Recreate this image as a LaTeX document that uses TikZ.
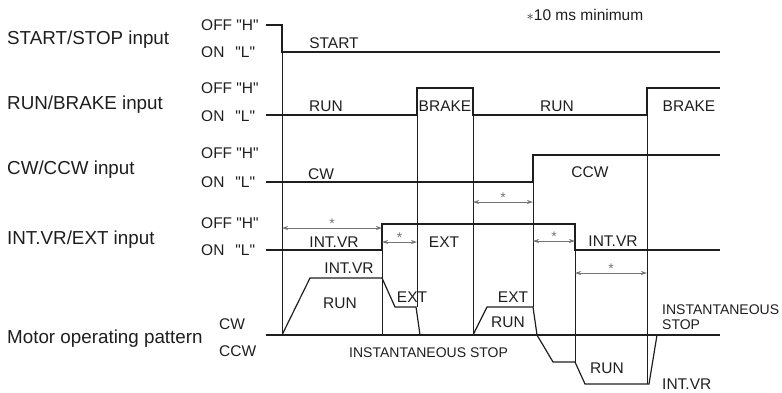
\documentclass[tikz,border=0pt]{standalone}
\usepackage{fontspec}
\setmainfont{Liberation Sans}
\usetikzlibrary{arrows.meta}
\definecolor{ink}{RGB}{30,30,30}
\definecolor{soft}{RGB}{115,115,115}
\newcommand{\offH}{OFF \textquotedbl H\textquotedbl}
\newcommand{\onL}{ON\hspace{11pt}\textquotedbl L\textquotedbl}
\tikzset{
  sig/.style={ink, line width=1.2pt, line join=miter},
  guide/.style={ink, line width=0.9pt},
  dim/.style={{Stealth[length=6pt,width=4pt]}-{Stealth[length=6pt,width=4pt]}, soft, line width=0.8pt},
  side/.style={font=\fontsize{18.8}{20}\selectfont, ink, inner sep=0pt, anchor=base west},
  lvl/.style={font=\fontsize{15.5}{17}\selectfont, ink, inner sep=0pt, anchor=west},
  lbl/.style={font=\fontsize{15.5}{17}\selectfont, ink, inner sep=0pt},
  note/.style={font=\fontsize{14}{15}\selectfont, ink, inner sep=0pt},
  star/.style={font=\fontsize{14}{15}\selectfont, soft, inner sep=0pt, anchor=base},
}

\begin{document}
\begin{tikzpicture}[x=1pt,y=-1pt]
    \useasboundingbox (0,0) rectangle (782,392);
    % --- names of the inputs ---
    \node[side] (nStart) at (7,44)  {START/STOP input};
    \node[side] (nRun)   at (7,109) {RUN/BRAKE input};
    \node[side] (nDir)   at (7,174) {CW/CCW input};
    \node[side] (nSpeed) at (7,244) {INT.VR/EXT input};
    \node[side] (nMotor) at (7,343) {Motor operating pattern};
    \node[lbl] (footnote) at (585,15) {$\ast$10 ms minimum};
    % --- levels ---
    \node[lvl] (hStart) at (201,25)  {\offH};
    \node[lvl] (lStart) at (201,52)  {\onL};
    \node[lvl] (hRun)   at (201,88)  {\offH};
    \node[lvl] (lRun)   at (201,116) {\onL};
    \node[lvl] (hDir)   at (201,153) {\offH};
    \node[lvl] (lDir)   at (201,182) {\onL};
    \node[lvl] (hSpeed) at (201,223) {\offH};
    \node[lvl] (lSpeed) at (201,250) {\onL};
    \node[lbl,anchor=west] (mCw)  at (219,324) {CW};
    \node[lbl,anchor=west] (mCcw) at (219,351) {CCW};
    % --- guide lines ---
    \draw[guide] (282,25) -- (282,335);
    \draw[guide] (382,224) -- (382,335);
    \draw[guide] (417,88) -- (417,307);
    \draw[guide] (473,88) -- (473,335);
    \draw[guide] (533,155) -- (533,307);
    \draw[guide] (575,224) -- (575,362);
    \draw[guide] (647,88) -- (647,384);
    % --- input signals ---
    \draw[sig] (266,25) -- (282,25) -- (282,52) -- (720,52);
    \draw[sig] (266,115) -- (417,115) -- (417,88) -- (473,88) -- (473,115)
      -- (647,115) -- (647,88) -- (720,88);
    \draw[sig] (266,182) -- (533,182) -- (533,155) -- (720,155);
    \draw[sig] (266,250) -- (382,250) -- (382,224) -- (575,224) -- (575,250) -- (720,250);
    \node[lbl] (tStart) at (334,43)  {START};
    \node[lbl] (tRun1)  at (326,106) {RUN};
    \node[lbl] (tBrk1)  at (445,106) {BRAKE};
    \node[lbl] (tRun2)  at (557,106) {RUN};
    \node[lbl] (tBrk2)  at (689,106) {BRAKE};
    \node[lbl] (tCw)    at (321,174) {CW};
    \node[lbl] (tCcw)   at (590,172) {CCW};
    \node[lbl] (tInt1)  at (334,242) {INT.VR};
    \node[lbl] (tExt)   at (444,242) {EXT};
    \node[lbl] (tInt2)  at (613,241) {INT.VR};
    % --- 10 ms gaps ---
    \draw[dim] (282,228) -- node[star] {*} (382,228);
    \draw[dim] (382,242) -- node[star] {*} (417,242);
    \draw[dim] (473,202) -- node[star] {*} (533,202);
    \draw[dim] (533,241) -- node[star] {*} (575,241);
    \draw[dim] (575,273) -- node[star] {*} (647,273);
    % --- motor ---
    \draw[sig] (266,335) -- (720,335);
    \draw[sig] (282,335) -- (310,278) -- (382,278) -- (395,307) -- (416,307) -- (420,335);
    \draw[sig] (473,335) -- (487,307) -- (533,307) -- (537,335) -- (553,362) -- (575,362)
      -- (585,384) -- (649,384) -- (657,335);
    \node[lbl] (mInt1) at (349,268) {INT.VR};
    \node[lbl] (mRun1) at (340,303) {RUN};
    \node[lbl] (mExt1) at (412,297) {EXT};
    \node[lbl] (mExt2) at (513,297) {EXT};
    \node[lbl] (mRun2) at (508,322) {RUN};
    \node[lbl] (mRun3) at (607,368) {RUN};
    \node[note,anchor=west] (mStop1) at (349,353) {INSTANTANEOUS STOP};
    \node[note,anchor=west,align=left] (mStop2) at (662,317.5) {INSTANTANEOUS\\STOP};
    \node[lbl,anchor=west] (mInt2) at (662,384) {INT.VR};
\end{tikzpicture}
\end{document}
